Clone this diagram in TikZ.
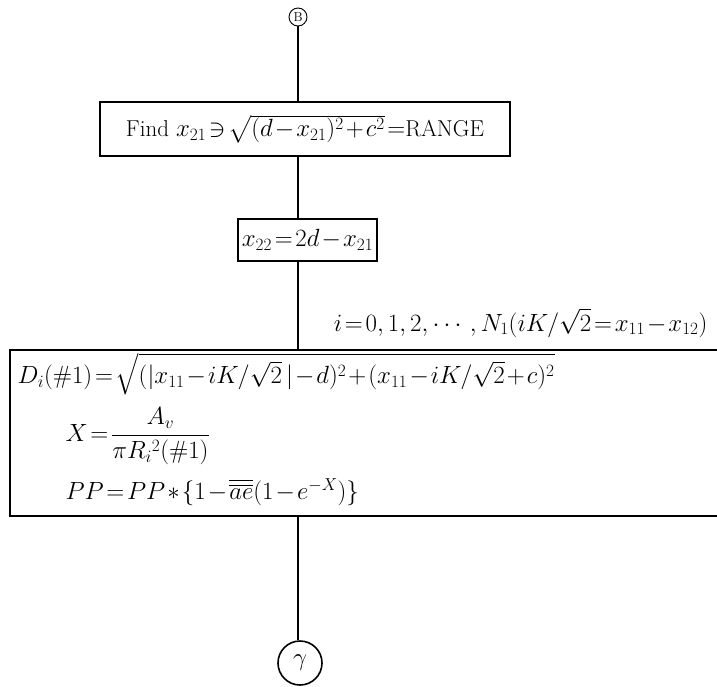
\documentclass[tikz,border=0pt]{standalone}
\usepackage{amsmath,amssymb}
\usepackage{tikz}
\usetikzlibrary{positioning}

\begin{document}
\begin{tikzpicture}[x=1pt,y=-1pt]
  \tikzset{
    flow/.style={draw,line width=1.6pt,inner sep=0pt},
    link/.style={line width=2.2pt},
    conn/.style={draw,circle,inner sep=0pt},
    big/.style={font={\fontsize{23}{27}\selectfont\thickmuskip=2mu\medmuskip=1.5mu}}
  }
  \useasboundingbox (0,0) rectangle (717,686);
  \clip (0,0) rectangle (717,686);

  \node[conn,line width=0.9pt,minimum size=18pt,font=\fontsize{13}{15}\selectfont] (entry) at (298,17) {B};
  \node[flow,big,minimum width=410pt,minimum height=54pt] (find) at (305,129)
    {Find $x_{21}\ni\sqrt{(d-x_{21})^2+c^2}=$RANGE};
  \node[flow,big,minimum width=139pt,minimum height=42pt] (mirror) at (307.5,240)
    {$x_{22}=2d-x_{21}$};
  \node[flow,minimum width=740pt,minimum height=166pt,anchor=north west] (calc) at (9,349) {};
  \node[big,anchor=base east] (loop) at (711,331)
    {$i=0,1,2,\cdots,N_1(iK/\sqrt{2}=x_{11}-x_{12})$};

  \node[big,anchor=west] (dist) at (14,374)
    {$D_i(\#1)=\sqrt{(|x_{11}-iK/\sqrt{2}\,|-d)^2+(x_{11}-iK/\sqrt{2}+c)^2}$};
  \node[big,anchor=west] (expo) at (62,436)
    {$X=\dfrac{A_v}{\pi R_i{}^2(\#1)}$};
  \node[big,anchor=west] (prob) at (62,492)
    {$PP=PP\ast\{1-\overline{\overline{ae}}(1-e^{-X})\}$};

  \node[conn,line width=1.6pt,minimum size=44pt,big] (exit) at (300,663) {$\gamma$};

  \draw[link] (entry) -- (entry |- find.north);
  \draw[link] (find.south -| entry) -- (mirror.north -| entry);
  \draw[link] (mirror.south -| entry) -- (calc.north -| entry);
  \draw[link] (calc.south -| entry) -- (exit.north -| entry);
\end{tikzpicture}
\end{document}
